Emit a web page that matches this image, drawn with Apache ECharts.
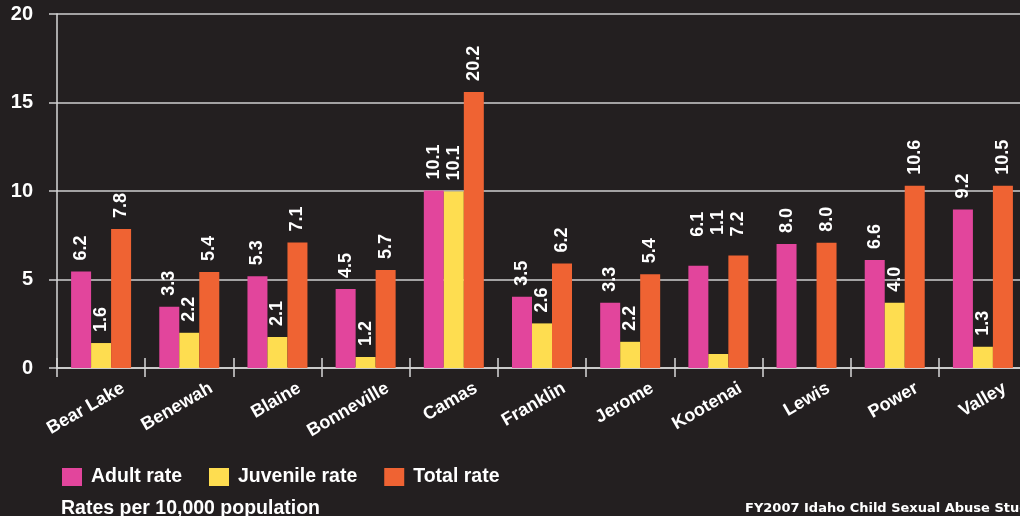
<!DOCTYPE html>
<html><head><meta charset="utf-8">
<script src="https://cdn.jsdelivr.net/npm/echarts@6/dist/echarts.min.js"></script>
<style>html,body{margin:0;padding:0;background:#231f20;}#c{width:1020px;height:516px;}</style>
</head><body><div id="c"></div>
<script>
const counties = ['Bear Lake','Benewah','Blaine','Bonneville','Camas','Franklin','Jerome','Kootenai','Lewis','Power','Valley'];
// bar heights as drawn
const adultRate = [5.45,3.46,5.19,4.46,10.03,4.02,3.69,5.77,7.0,6.1,8.95];
const juvenileRate = [1.41,1.99,1.75,0.62,9.97,2.52,1.48,0.79,null,3.69,1.2];
const totalRate = [7.85,5.42,7.09,5.53,15.6,5.9,5.3,6.36,7.07,10.29,10.29];
// printed value labels
const adultLabels = ['6.2','3.3','5.3','4.5','10.1','3.5','3.3','6.1','8.0','6.6','9.2'];
const juvenileLabels = ['1.6','2.2','2.1','1.2','10.1','2.6','2.2','1.1','','4.0','1.3'];
const totalLabels = ['7.8','5.4','7.1','5.7','20.2','6.2','5.4','7.2','8.0','10.6','10.5'];
const yTicks = [0,5,10,15,20];
const seriesNames = ['Adult rate','Juvenile rate','Total rate'];
const noteText = 'Rates per 10,000 population';
const sourceText = 'FY2007 Idaho Child Sexual Abuse Study';

const colors = ['#e2459c','#fedd50','#ef6333'];
const FONT = '"Liberation Sans", Arial, sans-serif';
const labelDistOverride = {7:[29,119,19]};

function buildData(vals, labels, si){
  return vals.map((v,i)=>{
    const item = {value: v === null ? '-' : v};
    const d = labelDistOverride[i] ? labelDistOverride[i][si] : 11;
    item.label = {distance: d, formatter: labels[i]};
    return item;
  });
}
const valueLabel = {
  show:true, position:'top', rotate:90, align:'left', verticalAlign:'middle',
  color:'#ffffff', fontSize:18, fontWeight:'bold', fontFamily:FONT
};
const chart = echarts.init(document.getElementById('c'), null, {renderer:'canvas'});
const series = [adultRate, juvenileRate, totalRate].map((vals, si)=>({
  name: seriesNames[si], type:'bar', barWidth:20, barGap:'0%',
  itemStyle:{color:colors[si]},
  label: valueLabel,
  data: buildData(vals, [adultLabels, juvenileLabels, totalLabels][si], si),
  animation:false
}));
const LINE = '#d8d8d8';
chart.setOption({
  backgroundColor:'#231f20',
  animation:false,
  title:[
    {text:noteText, left:61, top:499, padding:0, textStyle:{color:'#ffffff', fontSize:19.5, fontWeight:'bold', fontFamily:FONT}},
    {text:sourceText, left:745, top:502, padding:0, textStyle:{color:'#ffffff', fontSize:13, fontWeight:'bold', fontFamily:'"DejaVu Sans", sans-serif'}}
  ],
  legend:{
    left:62, top:467, padding:0, itemWidth:20, itemHeight:18, itemGap:27, icon:'rect',
    data: seriesNames,
    textStyle:{color:'#ffffff', fontSize:19.5, fontWeight:'bold', fontFamily:FONT, padding:[0,0,0,4]}
  },
  grid:[
    {left:57, width:970, top:14, bottom:148, containLabel:false, outerBoundsMode:'none'},
    {left:79, width:970, top:14, bottom:148, containLabel:false, outerBoundsMode:'none'}
  ],
  xAxis:[{
    type:'category', data:counties, gridIndex:0,
    axisLine:{show:true, lineStyle:{color:LINE, width:1.5}},
    axisTick:{show:true, length:9, lineStyle:{color:LINE, width:1.5}},
    axisLabel:{show:false}
  },{
    type:'category', data:counties, position:'bottom', gridIndex:0,
    axisLine:{show:false},
    axisTick:{show:true, inside:true, length:10, lineStyle:{color:LINE, width:1.5}},
    axisLabel:{show:false}
  },{
    type:'category', data:counties, position:'bottom', gridIndex:1,
    axisLine:{show:false}, axisTick:{show:false},
    axisLabel:{interval:0, rotate:30, align:'right', verticalAlign:'middle', margin:19,
      color:'#ffffff', fontSize:18, fontWeight:'bold', fontFamily:FONT}
  }],
  yAxis:[{
    type:'value', gridIndex:0, min:yTicks[0], max:yTicks[yTicks.length-1], interval:5,
    axisLine:{show:true, lineStyle:{color:LINE, width:1.5}},
    axisTick:{show:true, length:8, lineStyle:{color:'#cfcfcf', width:1.5}},
    splitLine:{show:true, lineStyle:{color:'#cfcfcf', width:1.5}},
    axisLabel:{margin:24, color:'#ffffff', fontSize:20, fontWeight:'bold', fontFamily:FONT}
  },{
    type:'value', gridIndex:1, min:0, max:20, show:false
  }],
  series: series
});
</script></body></html>
